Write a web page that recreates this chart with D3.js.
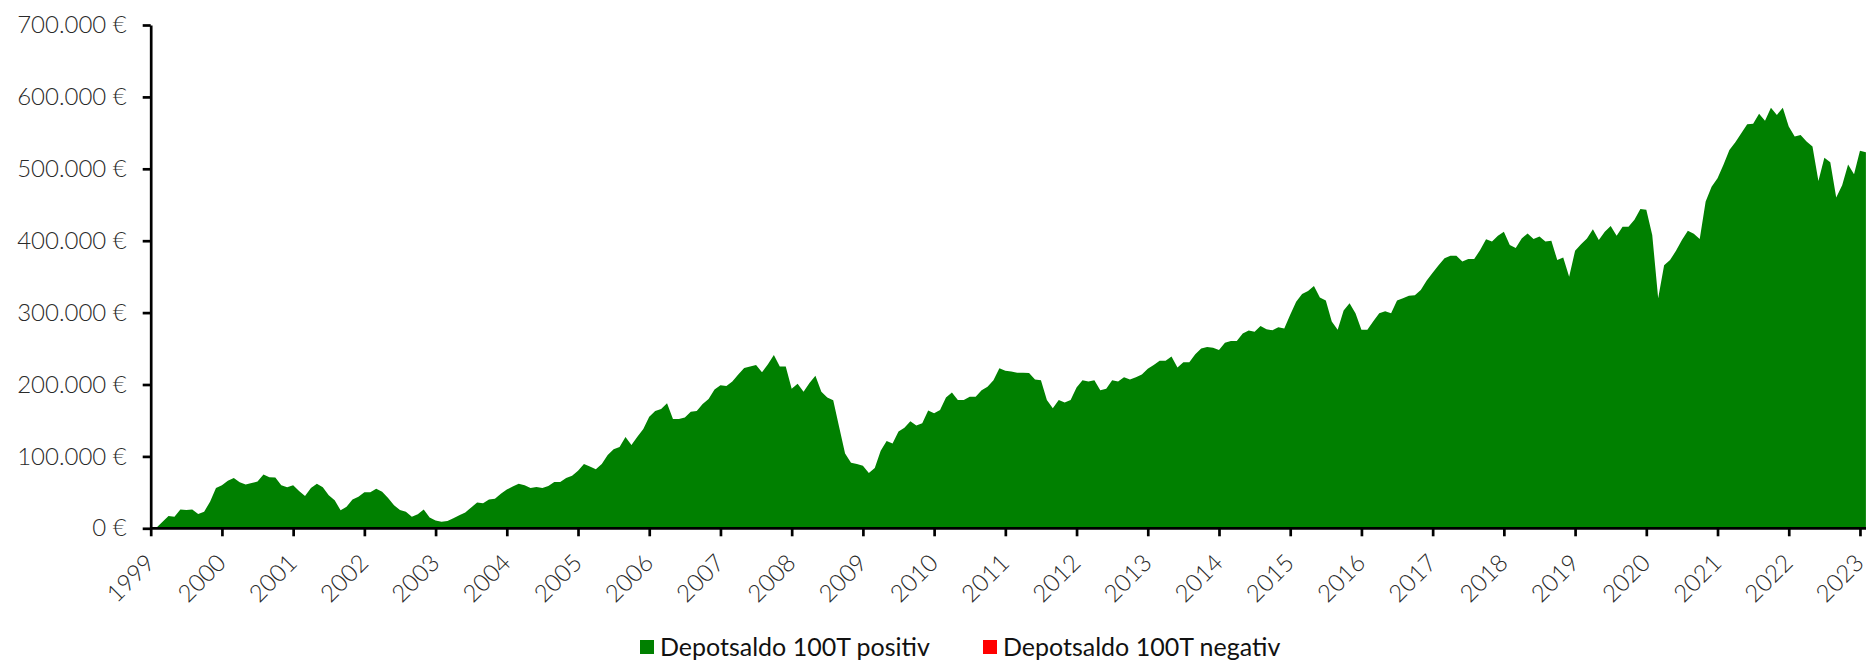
<!DOCTYPE html>
<html>
<head>
<meta charset="utf-8">
<script src="https://cdn.jsdelivr.net/npm/d3@7"></script>
<style>
  body { margin: 0; background: #fff; }
  svg { display: block; }
  svg text { font-family: Lato, "Open Sans", sans-serif; }
  .axis text { font-size: 24px; font-weight: 300; fill: #2a2a2a; }
  .legend text { font-size: 25px; fill: #111; }
</style>
</head>
<body>
<svg id="chart" width="1866" height="661"></svg>
<script>
// monthly depot balance in thousand euro, Jan 1999 .. Feb 2023
const startYear = 1999;
const depotValues = [
  0, 1, 9, 17, 16, 26, 25.5, 26, 20, 23, 37, 56,
  60, 66, 70, 64, 61, 63, 65, 75, 71, 70.5, 60, 57,
  60, 52, 45, 56, 62, 57, 46, 39, 25, 30, 40, 44,
  50, 50, 55, 51, 42, 32, 25.5, 23, 16, 19.5, 26, 15,
  11, 9, 10, 14, 18, 22, 29, 36, 35, 40, 41, 48,
  54, 58, 62, 60, 56, 57.5, 56, 59, 64.5, 64.5, 70, 73,
  80, 89.5, 86, 82, 89.5, 102, 110, 113, 127, 116, 127.5, 138,
  155, 163, 166, 174, 152, 152, 154, 162, 163, 173, 180, 193,
  199, 198, 204, 214, 223, 225, 227, 217, 228, 241, 225, 225,
  194, 201, 190, 202, 212, 190, 182, 178, 141, 104, 91, 89.5,
  87, 77, 84, 108, 121.5, 118, 134.5, 140, 149, 143, 146, 164,
  160, 164.5, 182, 189, 178.5, 178.5, 183, 183, 192, 197, 206, 222.5,
  219, 218, 216.5, 216.5, 216, 207, 206, 178.5, 167, 178.5, 175, 178.5,
  196, 206, 204, 206, 192, 194, 206, 204, 210, 207, 210, 214,
  222, 227, 233, 233, 239, 223.5, 231, 231, 242, 250, 252, 251,
  248, 258, 260.5, 260.5, 271, 275, 273.5, 281.5, 277, 275.5, 279.5, 278,
  297, 315, 326, 330, 337, 321, 317, 287.5, 276, 303, 313, 299,
  276, 276, 288, 299, 302, 299, 317, 320, 323.5, 324, 331.5, 344.5,
  355.5, 366, 375.5, 379, 379, 371, 374.5, 374.5, 387, 402, 399, 407,
  412.5, 394, 390, 403, 410, 402.5, 406, 399, 400, 373, 376.5, 350,
  386, 395, 403, 416, 401, 412.5, 420.5, 407, 419.5, 419.5, 429, 444,
  443, 408, 320, 366, 373, 386, 401, 414, 409.5, 402.5, 454.5, 475,
  487, 505.5, 526, 537, 549.5, 562, 562.5, 576.5, 567, 585, 575, 585,
  559, 545, 547, 538, 531, 483, 515.5, 509, 460, 477, 506, 492.5,
  525, 523
];
const yearTicks = d3.range(1999, 2024);
const yTicks = [0, 100000, 200000, 300000, 400000, 500000, 600000, 700000];
const seriesNames = ["Depotsaldo 100T positiv", "Depotsaldo 100T negativ"];
const seriesColors = ["#008000", "#ff0000"];

const data = depotValues.map((v, i) => ({ m: i, value: v * 1000 }));

const svg = d3.select("#chart");
const x0 = 150.7, x1 = 1865.9, yBottom = 528.3, yTop = 25;

const xScale = d3.scaleLinear()
  .domain([0, depotValues.length - 1])
  .range([x0, x1]);

const yScale = d3.scaleLinear()
  .domain([0, 700000])
  .range([yBottom, yTop]);

const de = d3.formatLocale({ decimal: ",", thousands: ".", grouping: [3], currency: ["", " €"] });
const fmt = de.format("$,.0f");

// positive and negative areas
const posArea = d3.area()
  .x((d) => xScale(d.m))
  .y0(yScale(0))
  .y1((d) => yScale(Math.max(d.value, 0)));
const negArea = d3.area()
  .x((d) => xScale(d.m))
  .y0(yScale(0))
  .y1((d) => yScale(Math.min(d.value, 0)));

svg.append("path").datum(data).attr("d", posArea).attr("fill", seriesColors[0]);
svg.append("path").datum(data).attr("d", negArea).attr("fill", seriesColors[1]);

// axes
const yAxis = svg.append("g")
  .attr("class", "axis")
  .attr("transform", `translate(${x0},0)`)
  .call(d3.axisLeft(yScale).tickValues(yTicks).tickFormat(fmt).tickSize(8).tickSizeOuter(0).tickPadding(16));

const xAxis = svg.append("g")
  .attr("class", "axis")
  .attr("transform", `translate(0,${yBottom})`)
  .call(d3.axisBottom(xScale)
    .tickValues(yearTicks.map((y) => (y - startYear) * 12))
    .tickFormat((m) => startYear + m / 12)
    .tickSize(8).tickSizeOuter(0));

xAxis.selectAll("text")
  .attr("x", 0).attr("y", 0).attr("dy", 0)
  .attr("text-anchor", "end")
  .attr("transform", "translate(5,36) rotate(-45)");

svg.selectAll(".axis path, .axis line")
  .attr("stroke", "#000")
  .attr("stroke-width", 2.7);
xAxis.select(".domain").attr("d", `M${x0},0H1866`);

// legend
const legendX = [640, 983];
const legend = svg.append("g").attr("class", "legend");
seriesNames.forEach((name, i) => {
  legend.append("rect")
    .attr("x", legendX[i]).attr("y", 640)
    .attr("width", 14).attr("height", 14)
    .attr("fill", seriesColors[i]);
  legend.append("text")
    .attr("x", legendX[i] + 20).attr("y", 656)
    .text(name);
});
</script>
</body>
</html>
